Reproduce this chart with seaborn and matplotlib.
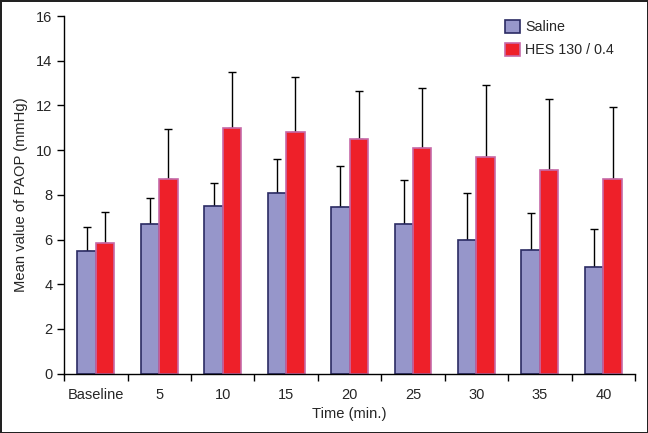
import pandas as pd
import numpy as np
import seaborn as sns
import matplotlib.pyplot as plt
from matplotlib.ticker import FixedLocator

# values
times = ["Baseline", "5", "10", "15", "20", "25", "30", "35", "40"]
saline_mean = [5.5, 6.7, 7.5, 8.1, 7.45, 6.7, 6.0, 5.55, 4.75]
saline_top = [6.55, 7.85, 8.55, 9.6, 9.3, 8.65, 8.1, 7.18, 6.45]
hes_mean = [5.85, 8.7, 11.0, 10.8, 10.5, 10.1, 9.7, 9.1, 8.7]
hes_top = [7.25, 10.95, 13.5, 13.25, 12.65, 12.77, 12.9, 12.27, 11.92]
groups = ["Saline", "HES 130 / 0.4"]

df = pd.DataFrame({
    "time": times * 2,
    "value": saline_mean + hes_mean,
    "group": [groups[0]] * len(times) + [groups[1]] * len(times),
})
err = {groups[0]: np.array(saline_top) - np.array(saline_mean),
       groups[1]: np.array(hes_top) - np.array(hes_mean)}

sns.set_style("white")
plt.rcParams['font.family'] = ['Liberation Sans', 'DejaVu Sans']

fig = plt.figure(figsize=(6.48, 4.33), dpi=100, linewidth=2, edgecolor="#222222")
ax = fig.add_axes([0.099, 0.137, 0.881, 0.826])

sns.barplot(data=df, x="time", y="value", hue="group", order=times, hue_order=groups,
            palette=["#9696ca", "#ee2029"], saturation=1, width=0.58, errorbar=None,
            ax=ax, linewidth=1.2)

bar_groups = list(ax.containers)[:2]
edge_cols = ["#2b2b63", "#c66aa8"]
for cont, g, ec in zip(bar_groups, groups, edge_cols):
    xs, hs = [], []
    for p in cont:
        p.set_edgecolor(ec)
        p.set_zorder(2)
        xs.append(p.get_x() + p.get_width() / 2)
        hs.append(p.get_height())
    ax.errorbar(xs, hs, yerr=[np.zeros(len(hs)), err[g]], fmt="none",
                ecolor="black", elinewidth=1, capsize=3, capthick=1, zorder=1)

ax.set_ylim(0, 16)
ax.set_yticks(range(0, 17, 2))
ax.set_xlim(-0.5, len(times) - 0.5)
ax.xaxis.set_minor_locator(FixedLocator(np.arange(-0.5, len(times), 1)))
ax.tick_params(axis="x", which="major", length=0, labelsize=10.5, pad=10)
ax.tick_params(axis="x", which="minor", length=5, width=1, color="black", direction="out", bottom=True)
ax.tick_params(axis="y", length=5, width=1, color="black", direction="out", left=True, labelsize=10.5)

sns.despine(ax=ax)
for s in ["left", "bottom"]:
    ax.spines[s].set_color("black")
    ax.spines[s].set_linewidth(1)
    ax.spines[s].set_zorder(3)

ax.set_xlabel("Time (min.)", fontsize=10.6, labelpad=4)
ax.set_ylabel("Mean value of PAOP (mmHg)", fontsize=10.6, labelpad=6)

leg = ax.legend(loc="upper left", bbox_to_anchor=(0.763, 1.005), frameon=False,
                fontsize=10.3, handlelength=1.0, handleheight=1.0, handletextpad=0.4,
                labelspacing=0.62, borderaxespad=0)
for h, ec in zip(leg.legend_handles, edge_cols):
    h.set_edgecolor(ec)
    h.set_linewidth(1.2)

fig.savefig("out.png", dpi=100)
